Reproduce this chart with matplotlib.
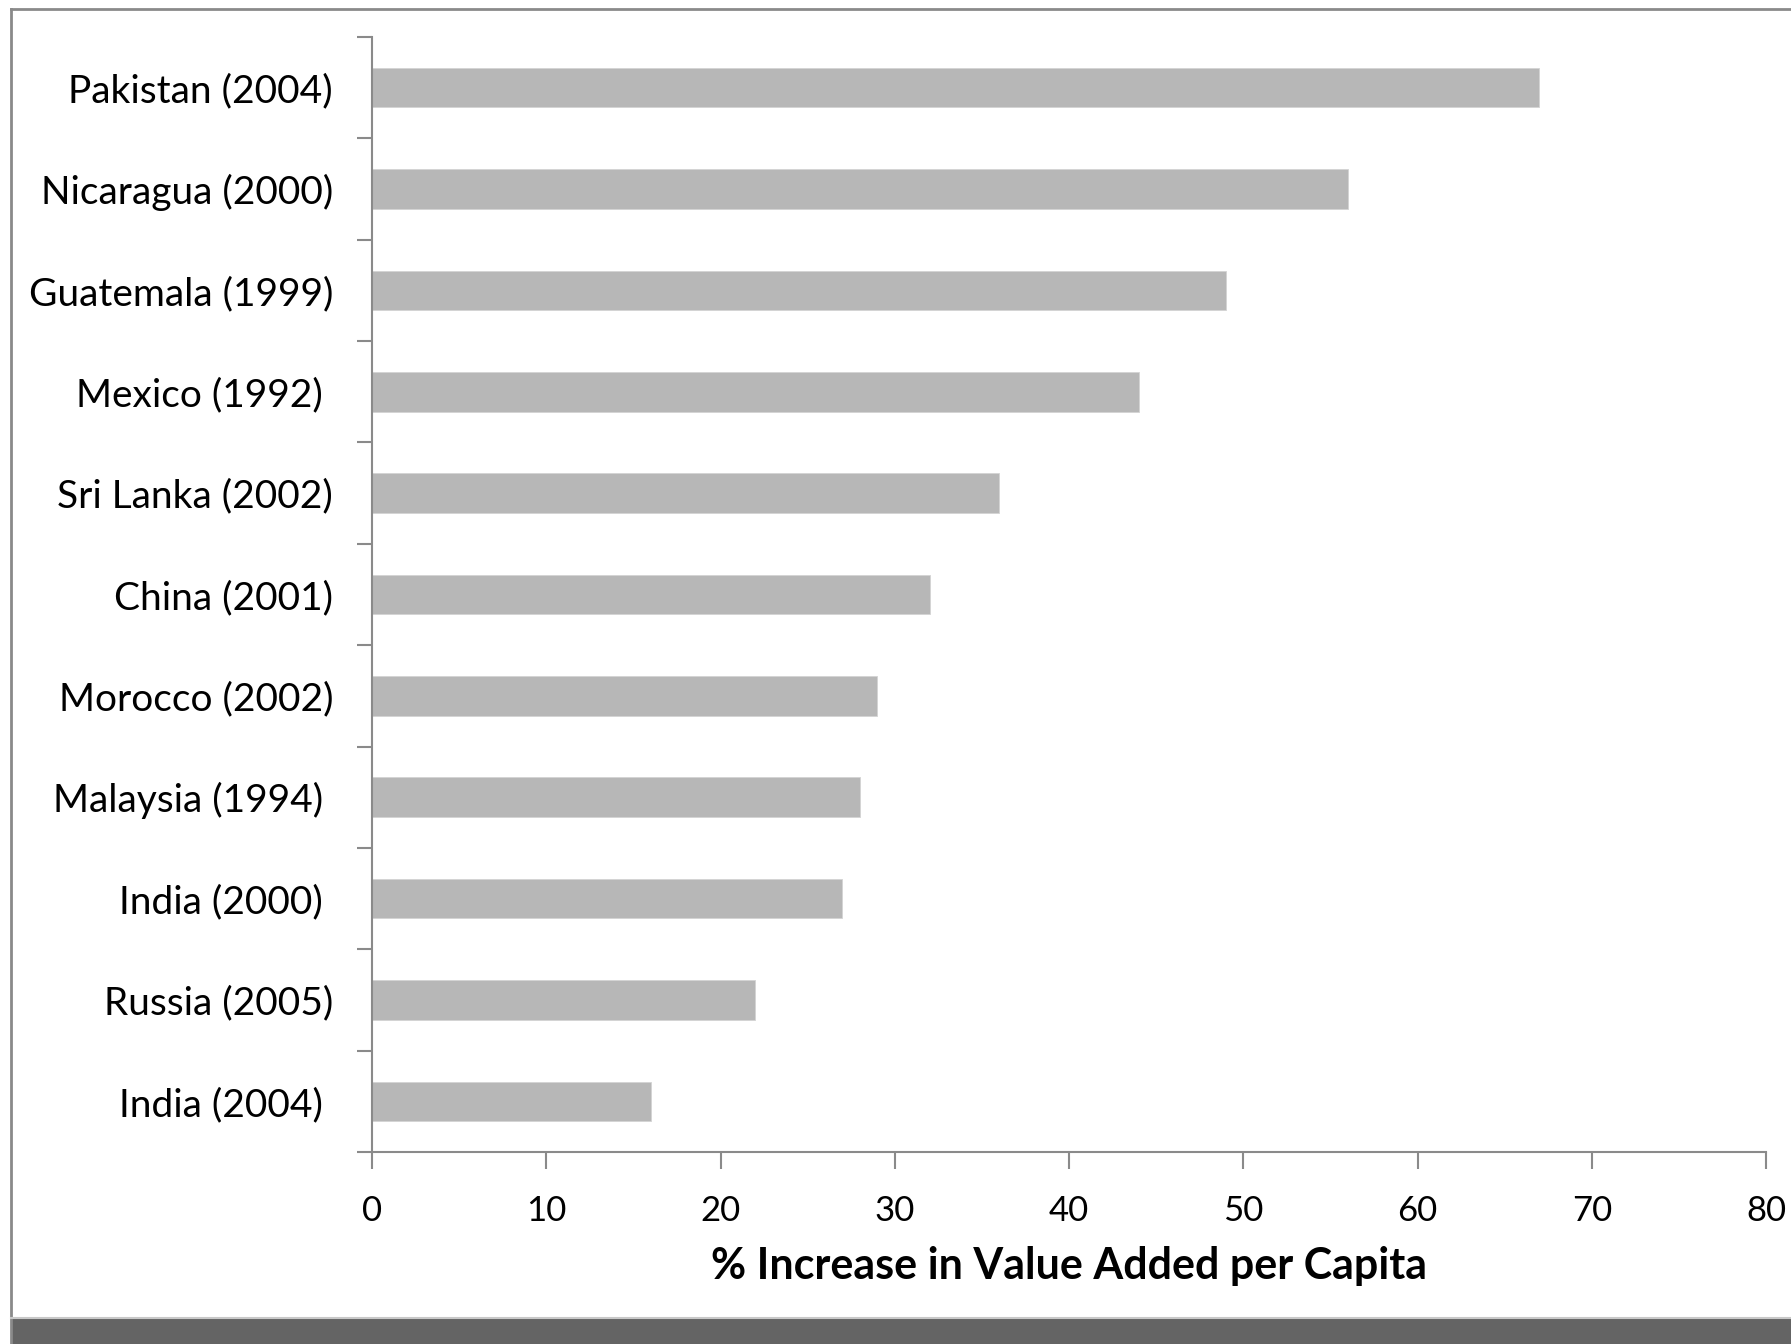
import matplotlib.pyplot as plt
from matplotlib.patches import Rectangle
from matplotlib.lines import Line2D

# countries (year of reform), top to bottom
countries = ["Pakistan (2004)", "Nicaragua (2000)", "Guatemala (1999)",
             "Mexico (1992) ", "Sri Lanka (2002)", "China (2001)",
             "Morocco (2002)", "Malaysia (1994) ", "India (2000) ",
             "Russia (2005)", "India (2004) "]
increase = [67, 56, 49, 44, 36, 32, 29, 28, 27, 22, 16]
x_ticks = [0, 10, 20, 30, 40, 50, 60, 70, 80]

plt.rcParams["font.family"] = ["Lato", "DejaVu Sans"]

W, H = 1791, 1344
fig = plt.figure(figsize=(W / 100, H / 100), dpi=100)
fig.patch.set_facecolor("white")

# slide frame and dark footer band
fig.add_artist(Line2D([11 / W, 11 / W], [0, 1 - 9 / H], transform=fig.transFigure,
                      color="#8a8a8a", lw=2))
fig.add_artist(Line2D([11 / W, 1], [1 - 9 / H, 1 - 9 / H], transform=fig.transFigure,
                      color="#8a8a8a", lw=2))
fig.add_artist(Rectangle((11 / W, 0), 1, 26 / H, transform=fig.transFigure,
                         facecolor="#646464", edgecolor="none"))
fig.add_artist(Line2D([11 / W, 1], [26 / H, 26 / H], transform=fig.transFigure,
                      color="#c8c8c8", lw=1.5))

ax = fig.add_axes([372 / W, 1 - 1152 / H, (1766 - 372) / W, (1152 - 37) / H])

n = len(countries)
pos = list(range(n - 1, -1, -1))
ax.barh(pos, increase, height=0.39, color="#b7b7b7", edgecolor="#d4d4d4", lw=0.6)

ax.set_xlim(0, 80)
ax.set_ylim(-0.5, n - 0.5)
ax.set_xticks(x_ticks)
ax.set_xticklabels([str(t) for t in x_ticks], fontsize=25)

# category labels centred on the bars, ticks on the slot boundaries
ax.set_yticks(pos)
ax.set_yticklabels(countries, fontsize=28)
ax.tick_params(axis="y", length=0, pad=28)
ax.set_yticks([i - 0.5 for i in range(n + 1)], minor=True)
ax.tick_params(axis="y", which="minor", length=11, width=1.5, color="#8a8a8a")
ax.tick_params(axis="x", length=12, width=1.5, color="#8a8a8a", pad=19)

for side in ["top", "right"]:
    ax.spines[side].set_visible(False)
for side in ["left", "bottom"]:
    ax.spines[side].set_color("#8a8a8a")
    ax.spines[side].set_linewidth(1.5)

ax.set_xlabel("% Increase in Value Added per Capita", fontsize=31,
              fontweight="bold", labelpad=14)

fig.savefig("out.png", dpi=100)
